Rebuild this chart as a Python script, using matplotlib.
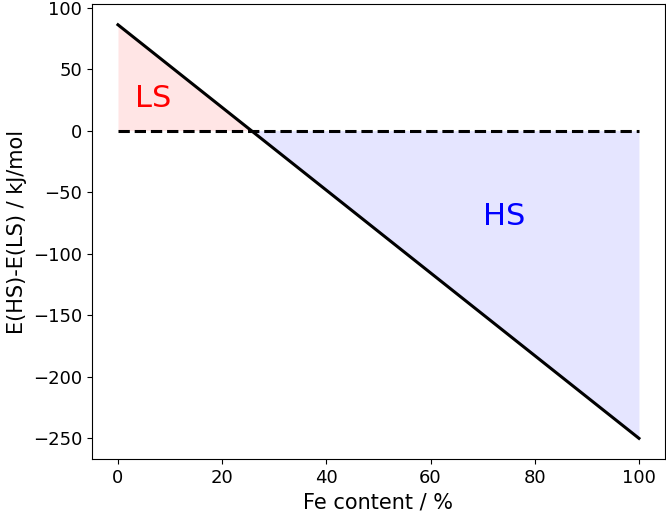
import matplotlib
matplotlib.use("Agg")
import matplotlib.pyplot as plt
import numpy as np

# Fe content (%) and energy difference E(HS)-E(LS) (kJ/mol)
fe_content = np.array([0.0, 100.0])
delta_e = np.array([86.0, -250.0])

x_cross = np.interp(0.0, delta_e[::-1], fe_content[::-1])

fig = plt.figure(figsize=(6.66, 5.12), dpi=100)
ax = fig.add_axes([0.138, 0.1035, 0.8605, 0.8885])

xs = np.array([fe_content[0], x_cross, fe_content[1]])
ys = np.interp(xs, fe_content, delta_e)

ax.fill_between(xs[:2], ys[:2], 0, color="red", alpha=0.1, linewidth=0)
ax.fill_between(xs[1:], ys[1:], 0, color="blue", alpha=0.1, linewidth=0)
ax.plot(fe_content, delta_e, color="black", linewidth=2.2)
ax.plot(fe_content, [0, 0], color="black", linestyle="--", linewidth=2.2)

ax.text(3.3, 19, "LS", color="red", fontsize=22)
ax.text(70, -77, "HS", color="blue", fontsize=22)

ax.set_xlabel("Fe content / %", fontsize=15)
ax.set_ylabel("E(HS)-E(LS) / kJ/mol", fontsize=15)
ax.tick_params(labelsize=13)
ax.set_yticks([100, 50, 0, -50, -100, -150, -200, -250])

fig.savefig("out.png", dpi=100)
